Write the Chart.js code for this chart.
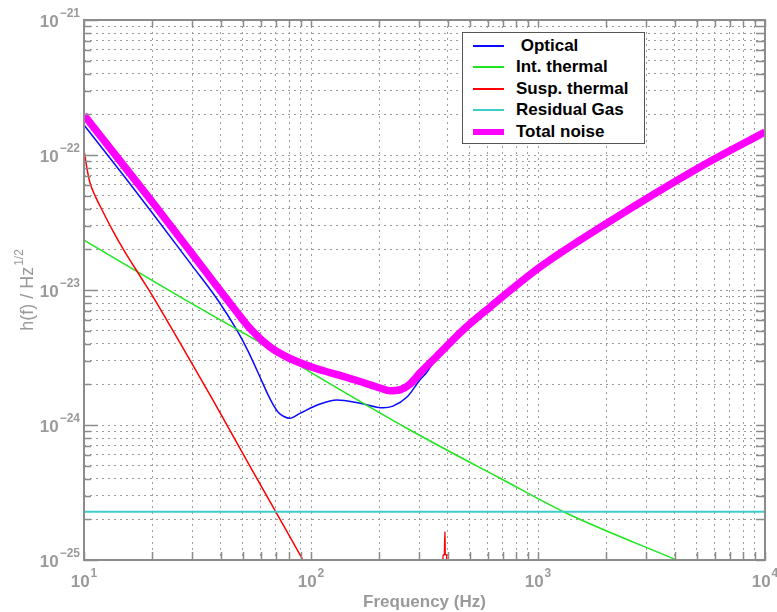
<!DOCTYPE html>
<html>
<head>
<meta charset="utf-8">
<script src="https://cdn.jsdelivr.net/npm/chart.js@4.4.1/dist/chart.umd.min.js"></script>
<style>
html, body { margin: 0; padding: 0; background: #fff; }
#wrap { position: relative; width: 777px; height: 612px; }
#legend { position: absolute; left: 462px; top: 32px; width: 183px; height: 112px; background: #fff;
  border: 1px solid #555; box-sizing: border-box; font: bold 17px "Liberation Sans", Arial, sans-serif; color: #000; }
#legend .row { position: absolute; left: 0; height: 20px; line-height: 20px; white-space: pre; }
#legend .sw { position: absolute; left: 10px; width: 31px; }
#legend .tx { position: absolute; left: 53px; top: 0; }
</style>
</head>
<body>
<div id="wrap">
  <canvas id="c" width="777" height="612"></canvas>
  <div id="legend"></div>
</div>
<script>
// optical noise
const optFreq = [10, 15, 20, 30, 38.9, 47.1, 52.8, 59.6, 64.7, 68.2, 71.5, 76.0, 80.7, 89.4, 109.6, 130.2, 164.4, 207.6, 229.7, 264.8, 302.1, 324.3, 358.8, 467.7, 615, 1021, 2014, 5176, 10000];
const optVal  = [1.67e-22, 6.99e-23, 3.72e-23, 1.51e-23, 8.4e-24, 5.06e-24, 3.53e-24, 2.27e-24, 1.67e-24, 1.41e-24, 1.25e-24, 1.156e-24, 1.12e-24, 1.22e-24, 1.43e-24, 1.53e-24, 1.45e-24, 1.34e-24, 1.38e-24, 1.61e-24, 2.16e-24, 2.47e-24, 3.15e-24, 4.95e-24, 7.35e-24, 1.46e-23, 3.1e-23, 8.1e-23, 1.47e-22];
// internal thermal
const grnFreq = [10, 26.5, 53.8, 273, 681, 1337, 4083];
const grnVal  = [2.34e-23, 8.9e-24, 4.51e-24, 9.18e-25, 4.03e-25, 2.22e-25, 1.0e-25];
// suspension thermal (null = break before the violin-mode spike)
const redFreq = [10, 10.3, 10.63, 11.18, 11.77, 13.42, 15.16, 17.65, 20.55, 26.5, 37, 53.8, 92.2, 200, 380, 381.5, 387, 389, 390, 396, 397];
const redVal  = [1.09e-22, 8.0e-23, 6.2e-23, 5.0e-23, 4.19e-23, 2.73e-23, 1.91e-23, 1.27e-23, 8.43e-24, 4.05e-24, 1.53e-24, 4.96e-25, 1.0e-25, null, 8e-26, 1.09e-25, 1.09e-25, 1.62e-25, 1.1e-25, 1.09e-25, 8e-26];
// residual gas
const gasFreq = [10, 10000];
const gasVal  = [2.28e-25, 2.28e-25];
// total
const totFreq = [10, 15, 20, 30, 37.1, 47.1, 51.2, 54.97, 59.6, 64.7, 70.1, 80.7, 105.2, 134.2, 164.4, 201.4, 222.8, 246.6, 272.9, 302.1, 358.8, 467.7, 615, 1021, 2014, 5176, 10000];
const totVal  = [1.98e-22, 8.3e-23, 4.49e-23, 1.85e-23, 1.156e-23, 6.87e-24, 5.74e-24, 5.01e-24, 4.37e-24, 3.88e-24, 3.53e-24, 3.11e-24, 2.62e-24, 2.33e-24, 2.10e-24, 1.88e-24, 1.79e-24, 1.82e-24, 2.01e-24, 2.43e-24, 3.24e-24, 5.06e-24, 7.48e-24, 1.48e-23, 3.13e-23, 8.15e-23, 1.48e-22];

const xDecades = [1, 2, 3, 4];
const yDecades = [-25, -24, -23, -22, -21];
const mantissas = [1, 2, 3, 4, 5, 6, 7, 8, 9];

const grey = '#9a9a9a';
const font = '"Liberation Sans", Arial, sans-serif';

function pts(fs, vs) { return fs.map((f, i) => ({ x: f, y: vs[i] })); }
function tickList(decs) {
  const out = [];
  decs.forEach((d, i) => {
    if (i === decs.length - 1) { out.push({ value: Math.pow(10, d) }); return; }
    mantissas.forEach(m => out.push({ value: m * Math.pow(10, d) }));
  });
  return out;
}
function isDecade(v) { const l = Math.log10(v); return Math.abs(l - Math.round(l)) < 1e-6; }

const series = [
  { label: ' Optical', f: optFreq, v: optVal, color: '#0a0aff', w: 1.5, order: 4, mono: true },
  { label: 'Int. thermal', f: grnFreq, v: grnVal, color: '#1ee61e', w: 1.5, order: 3, mono: true },
  { label: 'Susp. thermal', f: redFreq, v: redVal, color: '#ff0000', w: 1.5, order: 2, mono: true },
  { label: 'Residual Gas', f: gasFreq, v: gasVal, color: '#3fcccc', w: 2, order: 1 },
  { label: 'Total noise', f: totFreq, v: totVal, color: '#ff00ff', w: 7.5, order: 0, mono: true },
];

function drawPow(ctx, base, exp, x, y, align) {
  ctx.font = 'bold 17px ' + font;
  const wb = ctx.measureText(base).width;
  ctx.font = 'bold 12px ' + font;
  const we = ctx.measureText(exp).width;
  let x0;
  if (align === 'center') x0 = x - (wb + 1 + we) / 2;
  else x0 = x - (wb + 1 + we);
  ctx.font = 'bold 17px ' + font;
  ctx.fillText(base, x0, y);
  ctx.font = 'bold 12px ' + font;
  ctx.fillText(exp, x0 + wb + 1, y - 10);
}

const frame = {
  id: 'frame',
  afterDraw(chart) {
    const { ctx, chartArea: a, scales: { x, y } } = chart;
    ctx.save();
    ctx.strokeStyle = '#8c8c8c';
    ctx.lineWidth = 2;
    ctx.strokeRect(a.left, a.top, a.right - a.left, a.bottom - a.top);
    ctx.lineWidth = 1.5;
    ctx.beginPath();
    x.ticks.forEach(t => {
      const px = Math.round(x.getPixelForValue(t.value)) + 0.5;
      ctx.moveTo(px, a.bottom); ctx.lineTo(px, a.bottom - 8);
      ctx.moveTo(px, a.top); ctx.lineTo(px, a.top + 7);
    });
    y.ticks.forEach(t => {
      const py = Math.round(y.getPixelForValue(t.value)) + 0.5;
      ctx.moveTo(a.left, py); ctx.lineTo(a.left + (isDecade(t.value) ? 14 : 7), py);
      ctx.moveTo(a.right, py); ctx.lineTo(a.right - 9, py);
    });
    ctx.stroke();

    ctx.fillStyle = grey;
    ctx.textBaseline = 'alphabetic';
    ctx.textAlign = 'left';
    xDecades.forEach(d => {
      drawPow(ctx, '10', String(d), x.getPixelForValue(Math.pow(10, d)), 587, 'center');
    });
    yDecades.forEach(d => {
      const py = y.getPixelForValue(Math.pow(10, d));
      drawPow(ctx, '10', '\u2212' + Math.abs(d), a.left - 4, py + 7, 'right');
    });

    // axis titles
    ctx.font = 'bold 17px ' + font;
    ctx.textAlign = 'center';
    ctx.fillText('Frequency (Hz)', (a.left + a.right) / 2, 607);

    ctx.translate(33, (a.top + a.bottom) / 2);
    ctx.rotate(-Math.PI / 2);
    ctx.textAlign = 'left';
    ctx.font = '18px ' + font;
    const main = 'h(f) / Hz';
    const wm = ctx.measureText(main).width;
    ctx.font = '12px ' + font;
    const wx = ctx.measureText('1/2').width;
    const x0 = -(wm + 1 + wx) / 2;
    ctx.font = '18px ' + font;
    ctx.fillText(main, x0, 0);
    ctx.font = '12px ' + font;
    ctx.fillText('1/2', x0 + wm + 1, -10);
    ctx.restore();
  }
};

const gridOpts = { color: '#9c9c9c', lineWidth: 1, drawTicks: false };
const borderOpts = { display: false, dash: [2, 4] };

new Chart(document.getElementById('c'), {
  type: 'line',
  data: {
    datasets: series.map(s => ({
      label: s.label,
      data: pts(s.f, s.v),
      borderColor: s.color,
      backgroundColor: s.color,
      borderWidth: s.w,
      pointRadius: 0,
      fill: false,
      order: s.order,
      spanGaps: false,
      cubicInterpolationMode: s.mono ? 'monotone' : 'default',
      tension: 0,
    }))
  },
  options: {
    responsive: false,
    animation: false,
    layout: { padding: { left: 84, right: 12, top: 20, bottom: 52 } },
    plugins: { legend: { display: false }, tooltip: { enabled: false } },
    scales: {
      x: {
        type: 'logarithmic', min: 10, max: 10000,
        grid: gridOpts, border: borderOpts,
        ticks: { display: false, autoSkip: false },
        afterBuildTicks: s => { s.ticks = tickList(xDecades); },
        afterFit: s => { s.height = 0; },
      },
      y: {
        type: 'logarithmic', min: 1e-25, max: 1e-21,
        grid: gridOpts, border: borderOpts,
        ticks: { display: false, autoSkip: false },
        afterBuildTicks: s => { s.ticks = tickList(yDecades); },
        afterFit: s => { s.width = 0; },
      }
    }
  },
  plugins: [frame]
});

// legend
const lg = document.getElementById('legend');
const rowTops = [3, 24, 46, 67, 89];
series.forEach((s, i) => {
  const r = document.createElement('div');
  r.className = 'row';
  r.style.top = rowTops[i] + 'px';
  r.style.width = '180px';
  const sw = document.createElement('div');
  sw.className = 'sw';
  sw.style.height = (s.w >= 4 ? 6 : 2) + 'px';
  sw.style.top = (10 - (s.w >= 4 ? 3 : 1)) + 'px';
  sw.style.background = s.color;
  const tx = document.createElement('span');
  tx.className = 'tx';
  tx.textContent = s.label;
  r.appendChild(sw); r.appendChild(tx);
  lg.appendChild(r);
});
</script>
</body>
</html>
